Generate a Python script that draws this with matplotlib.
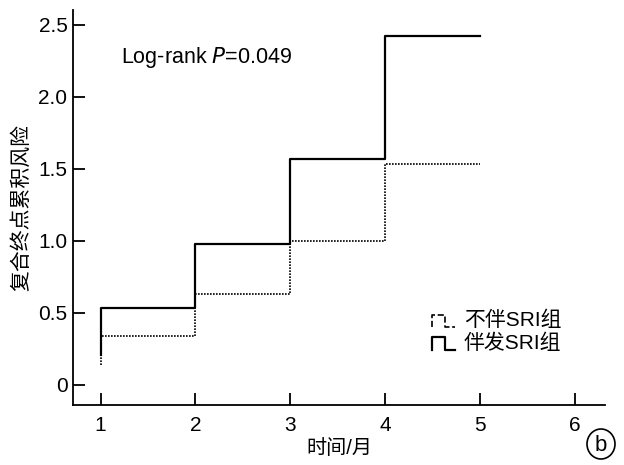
import matplotlib
matplotlib.use('Agg')
import matplotlib.pyplot as plt
from matplotlib.lines import Line2D
from matplotlib.legend_handler import HandlerBase
from matplotlib.patches import Ellipse

plt.rcParams['font.family'] = ['Liberation Sans', 'Noto Sans CJK SC']

# step data
months = [1, 1, 2, 3, 4, 5]
risk_sri = [0.21, 0.53, 0.98, 1.57, 2.42, 2.42]      # 伴发SRI组
risk_nosri = [0.14, 0.34, 0.63, 1.00, 1.53, 1.53]    # 不伴SRI组
xticks = [1, 2, 3, 4, 5, 6]
yticks = [0, 0.5, 1.0, 1.5, 2.0, 2.5]
yticklabels = ['0', '0.5', '1.0', '1.5', '2.0', '2.5']


class StepHandler(HandlerBase):
    # little step glyph for the legend
    def create_artists(self, legend, orig, xd, yd, w, h, fontsize, trans):
        xs = [xd, xd, xd + w * 0.55, xd + w * 0.55, xd + w]
        ys = [yd, yd + h, yd + h, yd, yd]
        ln = Line2D(xs, ys, color=orig.get_color(), linestyle=orig.get_linestyle(),
                    linewidth=orig.get_linewidth(), transform=trans)
        return [ln]


fig = plt.figure(figsize=(6.24, 4.65), dpi=100)
ax = fig.add_axes([0.117, 0.129, 0.853, 0.849])

l1, = ax.plot(months, risk_nosri, drawstyle='steps-post', color='black',
              linestyle=(0, (1, 0.8)), linewidth=1.2, label='不伴SRI组')
l2, = ax.plot(months, risk_sri, drawstyle='steps-post', color='black',
              linewidth=1.6, label='伴发SRI组')

ax.set_xlim(0.71, 6.32)
ax.set_ylim(-0.14, 2.6)
ax.set_xticks(xticks)
ax.set_yticks(yticks)
ax.set_yticklabels(yticklabels)
for s in ['top', 'right']:
    ax.spines[s].set_visible(False)
for s in ['left', 'bottom']:
    ax.spines[s].set_linewidth(1.3)
ax.tick_params(direction='in', length=8.5, width=1.3, labelsize=15)
ax.tick_params(axis='y', pad=4)
ax.tick_params(axis='x', pad=8)

ax.set_xlabel('时间/月', fontsize=14.5, labelpad=3)
ax.set_ylabel('复合终点累积风险', fontsize=15, labelpad=5)

ax.text(1.22, 2.27, 'Log-rank $\\it{P}$=0.049', fontsize=15.5, va='center')

leg = ax.legend(handles=[l1, l2], handler_map={Line2D: StepHandler()},
                loc='lower left', bbox_to_anchor=(0.64, 0.085), frameon=False,
                fontsize=15, handlelength=1.1, handleheight=0.55,
                handletextpad=0.4, labelspacing=0.15)

fig.add_artist(Ellipse((601 / 624, 1 - 444 / 465), 28 / 624, 30 / 465,
                       transform=fig.transFigure, fill=False,
                       edgecolor='black', linewidth=1.2))
fig.text(601 / 624, 1 - 445 / 465, 'b', fontsize=16, ha='center', va='center')

fig.savefig('out.png', dpi=100)
